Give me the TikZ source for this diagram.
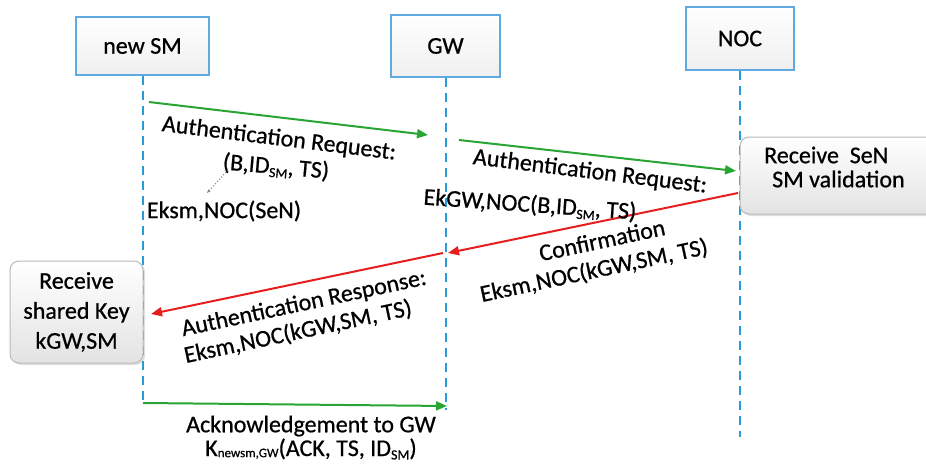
\documentclass[tikz,border=0pt]{standalone}
\usepackage{fontspec}
\setmainfont{Carlito}[RawFeature={embolden=0.7}]
\usetikzlibrary{arrows.meta,shadows}
\definecolor{life}{RGB}{40,155,215}
\definecolor{headb}{RGB}{95,170,225}
\definecolor{grn}{RGB}{40,165,50}
\definecolor{rd}{RGB}{232,30,30}
\newcommand{\sbs}[1]{\raisebox{-0.3ex}{\fontsize{14}{14}\selectfont #1}}
\newcommand{\ksbs}[1]{\raisebox{-0.1ex}{\fontsize{13}{13}\selectfont #1}}
\begin{document}
\begin{tikzpicture}[x=1pt,y=-1pt,
  font=\fontsize{24}{30}\selectfont,
  head/.style={draw=headb, line width=1.5pt, top color=white, bottom color=blue!3!gray!12,
    inner sep=0pt},
  lifeline/.style={draw=life, line width=2pt, dash pattern=on 9pt off 6pt},
  procbox/.style={draw=gray!55, line width=1pt, rounded corners=9pt, top color=white,
    bottom color=gray!22, inner sep=0pt,
    drop shadow={opacity=0.25, shadow xshift=2pt, shadow yshift=-2pt}},
  gmsg/.style={draw=grn, line width=2pt, -{Triangle[length=11pt,width=9pt]}},
  rmsg/.style={draw=rd, line width=2pt, -{Triangle[length=11pt,width=9pt]}},
  lbl/.style={inner sep=0pt, align=center}]
\useasboundingbox (0,0) rectangle (926,463);

% heads
\node[head, minimum width=133pt, minimum height=58pt] (sm) at (142.5,46) {new SM};
\node[head, minimum width=109pt, minimum height=62pt] (gw) at (445.5,46) {GW};
\node[head, minimum width=108pt, minimum height=63pt] (noc) at (740,38.5) {NOC};

% lifeline ends
\coordinate (smend) at (142,405);
\coordinate (gwend) at (446,410);
\coordinate (nocend) at (741,437);
\draw[lifeline] (sm.south) -- (sm.south |- smend);
\draw[lifeline] (gw.south) -- (gw.south |- gwend);
\draw[lifeline] (noc.south) -- (noc.south |- nocend);

% process boxes
\node[procbox, minimum width=133pt, minimum height=102pt] (keybox) at (76.5,312) {};
\node[lbl] (keytxt) at (76.5,312) {Receive\\shared Key\\kGW,SM};
\node[procbox, minimum width=200pt, minimum height=77pt] (senbox) at (840,175.5) {};
\node[lbl, anchor=west] (sen1) at (764,155) {Receive\ \ SeN};
\node[lbl, anchor=west] (sen2) at (772,179) {SM validation};

% message endpoints
\coordinate (a1s) at (149,102);
\coordinate (a1e) at (428,135);
\coordinate (a2s) at (459,140);
\coordinate (a2e) at (736,171);
\coordinate (a3s) at (738,193);
\coordinate (a3e) at (448,253);
\coordinate (a4s) at (443,253);
\coordinate (a4e) at (151,314);
\coordinate (a5s) at (143,403);
\coordinate (a5e) at (447,406);

\draw[gmsg] (a1s) -- (a1e);
\draw[gmsg] (a2s) -- (a2e);
\draw[rmsg] (a3s) -- (a3e);
\draw[rmsg] (a4s) -- (a4e);
\draw[gmsg] (a5s) -- (a5e);

% labels
\node[lbl, rotate=-7] (l1) at (279,139) {Authentication Request:};
\node[lbl, rotate=-5] (l1b) at (276,167) {(B,ID\sbs{SM}, TS)};
\node[lbl] (l1c) at (224,211) {Eksm,NOC(SeN)};
\coordinate (dots) at (228,170);
\coordinate (dote) at (207,193);
\draw[gray, dotted, line width=1pt, -{Stealth[length=4pt]}] (dots) -- (dote);

\node[lbl, rotate=-7] (l2) at (590,172) {Authentication Request:};
\node[lbl, rotate=-4] (l2b) at (530,205) {EkGW,NOC(B,ID\sbs{SM}, TS)};

\node[lbl, rotate=12] (l3) at (602,240) {Confirmation};
\node[lbl, rotate=12] (l3b) at (594,271) {Eksm,NOC(kGW,SM, TS)};

\node[lbl, rotate=12] (l4) at (304,304) {Authentication Response:};
\node[lbl, rotate=12] (l4b) at (298,332) {Eksm,NOC(kGW,SM, TS)};

\node[lbl] (l5) at (311,426) {Acknowledgement to GW};
\node[lbl] (l5b) at (311,449) {K\ksbs{newsm,GW}(ACK, TS, ID\sbs{SM})};
\end{tikzpicture}
\end{document}
